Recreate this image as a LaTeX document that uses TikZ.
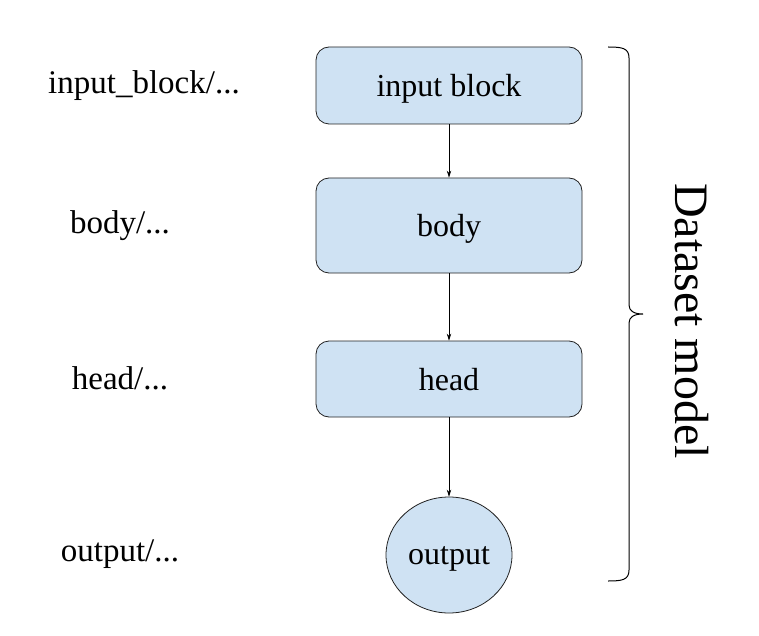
\documentclass[tikz,border=0pt]{standalone}
\usepackage{fontspec}
\setmainfont{Liberation Serif}
\usetikzlibrary{shapes.geometric,arrows.meta}
\definecolor{boxfill}{HTML}{CFE2F3}
\definecolor{boxline}{HTML}{222222}
\begin{document}
\begin{tikzpicture}[x=1pt,y={(0pt,-1pt)},
  blk/.style={draw=boxline,line width=0.8pt,fill=boxfill,rounded corners=13pt,
    minimum width=266pt,inner sep=0pt,text depth=0pt,font=\fontsize{32}{36}\selectfont},
  circ/.style={draw=boxline,line width=0.8pt,fill=boxfill,ellipse,
    minimum width=126pt,minimum height=116pt,inner sep=0pt,text depth=0pt,font=\fontsize{32}{36}\selectfont},
  lbl/.style={font=\fontsize{33}{38}\selectfont,inner sep=0pt},
  conn/.style={line width=0.8pt,-{Stealth[length=7pt,width=4.5pt]}},
  brc/.style={line width=1pt}]
\useasboundingbox (0,0) rectangle (759,636);
\node[blk,minimum height=77pt] (inp) at (449,85.5) {input block};
\node[blk,minimum height=95pt] (body) at (449,225.5) {body};
\node[blk,minimum height=76pt] (head) at (449,379) {head};
\node[circ] (out) at (449,555) {output};
\draw[conn] (inp) -- (body);
\draw[conn] (body) -- (head);
\draw[conn] (head) -- (out);
\node[lbl] (l1) at (144,86) {input\_block/...};
\node[lbl] (l2) at (120,226) {body/...};
\node[lbl] (l3) at (120,378) {head/...};
\node[lbl] (l4) at (120,554) {output/...};
\coordinate (btop) at (608,47);
\coordinate (bbot) at (608,581);
\coordinate (btip) at (643,314);
\draw[brc] (btop) .. controls (622,47) and (629,48) .. (629,58) -- (629,305)
  .. controls (629,311) and (634,314) .. (btip)
  .. controls (634,314) and (629,317) .. (629,323) -- (629,570)
  .. controls (629,580) and (622,581) .. (bbot);
\node[rotate=-90,inner sep=0pt,font=\fontsize{48}{54}\selectfont] (ds) at (692,321) {Dataset model};
\end{tikzpicture}
\end{document}
